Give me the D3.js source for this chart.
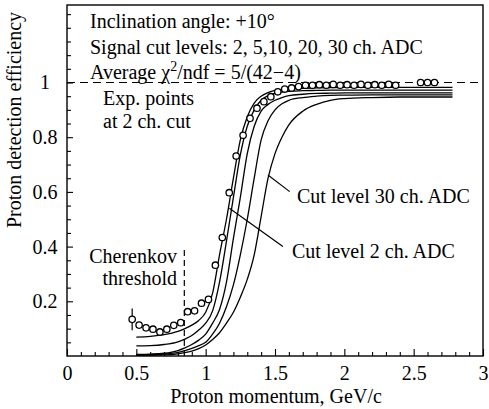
<!DOCTYPE html>
<html><head><meta charset="utf-8">
<script src="https://cdn.jsdelivr.net/npm/d3@7"></script>
<style>
html,body{margin:0;padding:0;background:#fff;}
text{font-family:"Liberation Serif","Times New Roman",serif;fill:#000;}
</style></head>
<body><svg id="chart" width="489" height="409"></svg>
<script>
// ---- data ----
const xTickMajor = [0, 0.5, 1, 1.5, 2, 2.5, 3];
const xTickLabels = ["0", "0.5", "1", "1.5", "2", "2.5", "3"];
const yTickMajor = [0.2, 0.4, 0.6, 0.8, 1];
const yTickLabels = ["0.2", "0.4", "0.6", "0.8", "1"];

const curveX = [0.5, 0.6, 0.7, 0.8, 0.85, 0.9, 0.95, 1.0, 1.05, 1.1, 1.15, 1.2, 1.25, 1.3, 1.35, 1.4, 1.45, 1.5, 1.55, 1.6, 1.7, 1.8, 1.9, 2.0, 2.2, 2.4, 2.6, 2.78];
const cut2  = [0.069, 0.072, 0.078, 0.09, 0.10, 0.113, 0.13, 0.16, 0.23, 0.37, 0.50, 0.65, 0.79, 0.875, 0.925, 0.95, 0.963, 0.971, 0.975, 0.977, 0.979, 0.98, 0.981, 0.982, 0.982, 0.982, 0.982, 0.982];
const cut5  = [0.037, 0.038, 0.042, 0.052, 0.062, 0.075, 0.095, 0.12, 0.165, 0.27, 0.42, 0.58, 0.735, 0.84, 0.90, 0.935, 0.952, 0.96, 0.965, 0.968, 0.97, 0.971, 0.972, 0.972, 0.972, 0.972, 0.972, 0.972];
const cut10 = [0.006, 0.007, 0.01, 0.02, 0.03, 0.042, 0.058, 0.08, 0.12, 0.17, 0.27, 0.43, 0.58, 0.74, 0.84, 0.895, 0.92, 0.935, 0.945, 0.952, 0.957, 0.96, 0.961, 0.962, 0.962, 0.962, 0.962, 0.962];
const cut20 = [0.004, 0.005, 0.007, 0.013, 0.02, 0.028, 0.038, 0.05, 0.08, 0.12, 0.18, 0.26, 0.37, 0.50, 0.65, 0.79, 0.86, 0.90, 0.922, 0.935, 0.945, 0.95, 0.953, 0.954, 0.955, 0.955, 0.955, 0.955];
const cut30 = [0.002, 0.003, 0.004, 0.008, 0.012, 0.018, 0.027, 0.04, 0.06, 0.085, 0.12, 0.16, 0.215, 0.28, 0.37, 0.51, 0.65, 0.74, 0.80, 0.845, 0.895, 0.92, 0.935, 0.941, 0.945, 0.947, 0.947, 0.947];
const curveSeries = [cut2, cut5, cut10, cut20, cut30];

const expX = [0.47, 0.52, 0.57, 0.62, 0.67, 0.72, 0.77, 0.82, 0.87, 0.92, 0.97, 1.02, 1.07, 1.12, 1.17, 1.22, 1.27, 1.32, 1.37, 1.42, 1.47, 1.52, 1.57, 1.62, 1.67, 1.72, 1.77, 1.82, 1.87, 1.92, 1.97, 2.02, 2.07, 2.12, 2.17, 2.22, 2.27, 2.32, 2.37, 2.55, 2.60, 2.65];
const expY = [0.134, 0.113, 0.103, 0.098, 0.088, 0.098, 0.112, 0.122, 0.162, 0.165, 0.193, 0.207, 0.332, 0.433, 0.597, 0.731, 0.807, 0.869, 0.906, 0.93, 0.948, 0.966, 0.976, 0.98, 0.985, 0.99, 0.99, 0.992, 0.99, 0.993, 0.99, 0.992, 0.99, 0.993, 0.99, 0.992, 0.99, 0.993, 0.99, 1.0, 1.0, 1.0];
const expErr = [0.04];

const thresholdX = 0.846;
const thresholdTop = 0.395;
const leader30 = [[1.449, 0.662], [1.606, 0.601]];
const leader2 = [[1.171, 0.54], [1.557, 0.40]];

// ---- layout ----
const L = 67, R = 483, T = 5, B = 356;
const x = d3.scaleLinear().domain([0, 3]).range([L, R]);
const y = d3.scaleLinear().domain([0, 1]).range([B, 82.5]);

const svg = d3.select("#chart");
const FS = 20;

// axes (inward ticks)
const xMinor = d3.range(0, 31).map(i => i / 10).filter(v => !xTickMajor.includes(+v.toFixed(2)));
svg.append("g").attr("transform", `translate(0,${B})`)
  .call(d3.axisBottom(x).tickValues(xMinor).tickSize(-4).tickFormat(""))
  .call(g => g.select(".domain").remove());
svg.append("g").attr("transform", `translate(0,${B})`)
  .call(d3.axisBottom(x).tickValues(xTickMajor).tickSize(-7).tickPadding(10)
        .tickFormat((d, i) => xTickLabels[i]))
  .call(g => g.select(".domain").remove())
  .call(g => g.selectAll("text").attr("font-size", FS).attr("font-family", "Liberation Serif"));

const yMinor = d3.range(1, 26).map(i => i * 0.05).filter(v => !yTickMajor.some(m => Math.abs(m - v) < 1e-6));
svg.append("g").attr("transform", `translate(${L},0)`)
  .call(d3.axisLeft(y).tickValues(yMinor).tickSize(-4).tickFormat(""))
  .call(g => g.select(".domain").remove());
svg.append("g").attr("transform", `translate(${L},0)`)
  .call(d3.axisLeft(y).tickValues(yTickMajor).tickSize(-6)
        .tickFormat((d, i) => yTickLabels[i]))
  .call(g => g.select(".domain").remove())
  .call(g => g.selectAll("text").attr("font-size", FS).attr("font-family", "Liberation Serif")
        .attr("text-anchor", "middle").attr("x", -22));
svg.selectAll(".tick line").attr("stroke", "#000").attr("stroke-width", 1.1);

// frame
svg.append("rect").attr("x", L).attr("y", T).attr("width", R - L).attr("height", B - T)
  .attr("fill", "none").attr("stroke", "#000").attr("stroke-width", 1.4);

// dashed line at 1
svg.append("line").attr("x1", x(0)).attr("x2", x(3)).attr("y1", y(1)).attr("y2", y(1))
  .attr("stroke", "#000").attr("stroke-width", 1.2).attr("stroke-dasharray", "8,5");

// Cherenkov threshold
svg.append("line").attr("x1", x(thresholdX)).attr("x2", x(thresholdX)).attr("y1", y(0)).attr("y2", y(thresholdTop))
  .attr("stroke", "#000").attr("stroke-width", 1.2).attr("stroke-dasharray", "6,4");

// curves
const line = d3.line().x((d, i) => x(curveX[i])).y(d => y(d)).curve(d3.curveMonotoneX);
svg.append("g").selectAll("path").data(curveSeries).join("path")
  .attr("d", d => line(d)).attr("fill", "none").attr("stroke", "#000").attr("stroke-width", 1.3);

// leaders
[leader30, leader2].forEach(ld => {
  svg.append("line").attr("x1", x(ld[0][0])).attr("y1", y(ld[0][1]))
    .attr("x2", x(ld[1][0])).attr("y2", y(ld[1][1])).attr("stroke", "#000").attr("stroke-width", 1.2);
});

// error bar of first point
svg.append("line").attr("x1", x(expX[0])).attr("x2", x(expX[0]))
  .attr("y1", y(expY[0] - expErr[0])).attr("y2", y(expY[0] + expErr[0]))
  .attr("stroke", "#000").attr("stroke-width", 1.2);

// experimental points
svg.append("g").selectAll("circle").data(expX).join("circle")
  .attr("cx", d => x(d)).attr("cy", (d, i) => y(expY[i])).attr("r", 3.2)
  .attr("fill", "#fff").attr("stroke", "#000").attr("stroke-width", 1.3);

// texts
function txt(s, tx, ty, anchor) {
  return svg.append("text").attr("x", tx).attr("y", ty).attr("font-size", FS)
    .attr("text-anchor", anchor || "start").text(s);
}
txt("Inclination angle: +10°", 90, 28);
txt("Signal cut levels: 2, 5,10, 20, 30 ch. ADC", 90, 54);
const av = svg.append("text").attr("x", 90).attr("y", 79).attr("font-size", FS);
av.append("tspan").text("Average χ");
av.append("tspan").attr("dy", -8).attr("font-size", 14).text("2");
av.append("tspan").attr("dy", 8).text("/ndf = 5/(42−4)");
txt("Exp. points", 103, 105);
txt("at 2 ch. cut", 103, 128);
txt("Cut level 30 ch. ADC", 297, 203);
txt("Cut level 2 ch. ADC", 292, 258);
txt("Cherenkov", 177, 263, "end");
txt("threshold", 177, 285, "end");

// axis titles
txt("Proton momentum, GeV/c", 276, 403, "middle");
svg.append("text").attr("transform", "translate(21,120) rotate(-90)")
  .attr("text-anchor", "middle").attr("font-size", FS).text("Proton detection efficiency");
</script></body></html>
